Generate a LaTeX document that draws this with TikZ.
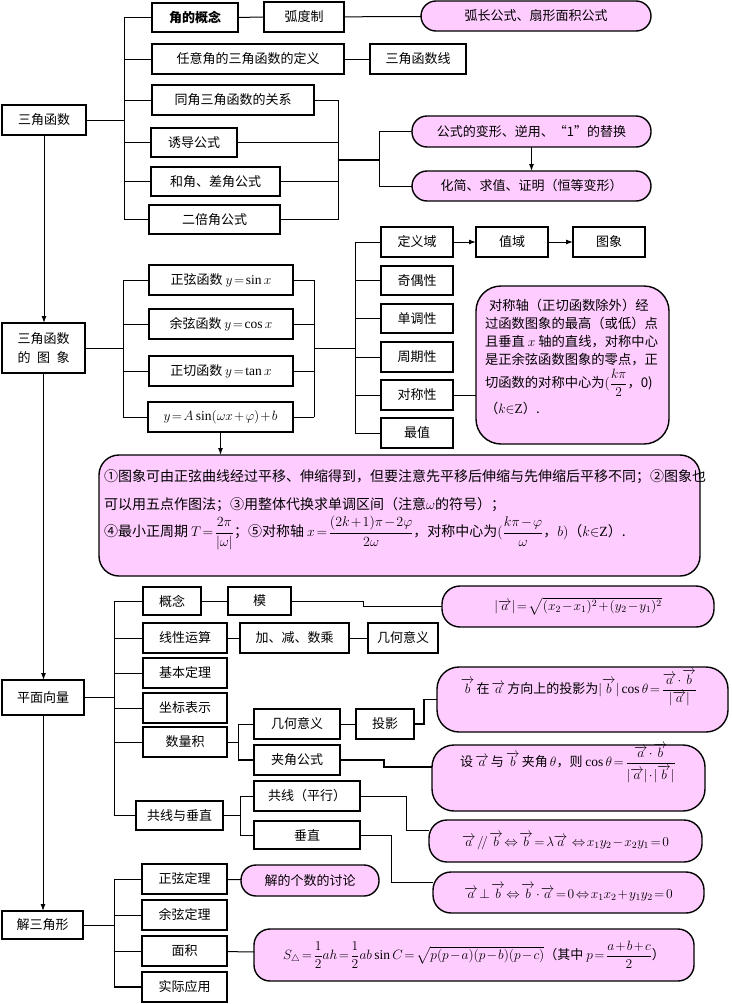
\RequirePackage{fix-cm}
\documentclass[tikz,border=0pt]{standalone}
\usepackage{amsmath}
\usepackage{fontspec}
\setmainfont{Liberation Serif}
\newfontfamily\cjk{Noto Sans CJK SC}
\DeclareMathSizes{13}{13.5}{9.5}{7.5}
\DeclareMathSizes{13.3}{13.5}{9.5}{7.5}
\DeclareMathSizes{14}{14}{10}{8}
\usetikzlibrary{arrows.meta,calc}
\definecolor{pinkc}{RGB}{255,204,255}
\newcommand\bx[7][]{\node[box,#1,minimum width={(#5-#3)*1pt},minimum height={(#6-#4)*1pt}] (#2) at ({(#3+#5)/2},{(#4+#6)/2}) {#7};}
\newcommand\va{\overrightarrow{a}}
\newcommand\vb{\overrightarrow{b}}
\begin{document}
\medmuskip=1.5mu
\thickmuskip=2mu
\begin{tikzpicture}[x=1pt,y=-1pt,line width=1pt,
  box/.style={draw,fill=white,line width=1.1pt,inner sep=1pt,outer sep=0pt,align=center,font=\cjk\fontsize{13}{16}\selectfont},
  pk/.style={box,fill=pinkc,line width=1.4pt,rounded corners=#1},
  pk/.default=12pt,
  txt/.style={inner sep=0pt,outer sep=0pt,anchor=west,font=\cjk\fontsize{14}{16}\selectfont},
  tk/.style={line width=2pt},
  arr/.style={line width=1pt,-{Latex[length=7pt,width=5pt]}}]
\fill[white] (0,0) rectangle (731,1004);
\useasboundingbox (0,0) rectangle (731,1004);
% ---------- section 1
\bx{tri}{2}{105}{86}{135}{三角函数}
\bx{jgn}{152}{3}{238}{32}{\bfseries 角的概念}
\bx{hdz}{264}{2}{344}{32}{弧度制}
\bx[pk=15pt]{hc}{421}{1}{651}{31}{弧长公式、扇形面积公式}
\bx{ryj}{152}{44}{344}{74}{任意角的三角函数的定义}
\bx{sjx}{370}{44}{466}{74}{三角函数线}
\bx{tj}{152}{85}{314}{115}{同角三角函数的关系}
\bx{yd}{151}{128}{237}{157}{诱导公式}
\bx{hj}{151}{167}{280}{196}{和角、差角公式}
\bx{eb}{149}{205}{280}{234}{二倍角公式}
\bx[pk=15pt]{bxa}{412}{116}{651}{147}{公式的变形、逆用、“1”的替换}
\bx[pk=15pt]{bxb}{412}{171}{651}{201}{化简、求值、证明（恒等变形）}
\coordinate (b1) at (124,0);
\coordinate (b2) at (338,0);
\coordinate (j1) at (338,160);
\coordinate (j2) at (379,160);
\draw (tri.east) -- (tri.east -| b1);
\draw (b1 |- jgn.west) -- (b1 |- eb.west);
\foreach \n in {jgn,ryj,tj,yd,hj,eb} \draw (b1 |- \n.west) -- (\n.west);
\draw (jgn) -- (hdz);
\draw (hdz) -- (hc);
\draw (ryj) -- (sjx);
\foreach \n in {tj,yd,hj,eb} \draw (\n.east) -- (\n.east -| b2);
\draw (b2 |- tj.east) -- (b2 |- eb.east);
\draw[tk] (j1) -- (j2);
\draw (j2 |- bxa.west) -- (j2 |- bxb.west);
\draw (j2 |- bxa.west) -- (bxa.west);
\draw (j2 |- bxb.west) -- (bxb.west);
\draw[arr] (bxa) -- (bxb);
% ---------- section 2
\bx[font=\cjk\fontsize{13}{19}\selectfont]{tfx}{2}{323}{85}{373}{三角函数\\\makebox[4em]{的\hfill 图\hfill 象}}
\bx{fsin}{149}{265}{293}{295}{正弦函数 $y=\sin x$}
\bx{fcos}{149}{309}{293}{339}{余弦函数 $y=\cos x$}
\bx{ftan}{149}{356}{293}{386}{正切函数 $y=\tan x$}
\bx{fasin}{148}{402}{293}{432}{$y=A\sin(\omega x+\varphi)+b$}
\bx{dyy}{381}{227}{453}{257}{定义域}
\bx{zy}{476}{227}{548}{257}{值域}
\bx{tx}{573}{227}{645}{257}{图象}
\bx{jox}{381}{266}{453}{295}{奇偶性}
\bx{ddx}{381}{304}{453}{333}{单调性}
\bx{zqx}{381}{342}{453}{372}{周期性}
\bx{dcx}{381}{380}{453}{410}{对称性}
\bx{zz}{381}{418}{453}{448}{最值}
\bx[pk=25pt]{nta}{476}{286}{669}{444}{}
\coordinate (b3) at (123,0);
\coordinate (b4) at (314,0);
\coordinate (b5) at (355,0);
\draw (tfx.east) -- (tfx.east -| b3);
\draw (b3 |- fsin.west) -- (b3 |- fasin.west);
\foreach \n in {fsin,fcos,ftan,fasin} {\draw (b3 |- \n.west) -- (\n.west); \draw (\n.east) -- (\n.east -| b4);}
\draw (b4 |- fsin.east) -- (b4 |- fasin.east);
\draw (b4 |- tfx.east) -- (b5 |- tfx.east);
\draw (b5 |- dyy.west) -- (b5 |- zz.west);
\foreach \n in {dyy,jox,ddx,zqx,dcx,zz} \draw (b5 |- \n.west) -- (\n.west);
\draw[arr] (dyy) -- (zy);
\draw[arr] (zy.east) -- (zy.east -| tx.west);
\draw (dcx.east) -- (dcx.east -| nta.west);
\begin{scope}[every node/.style={txt,font=\cjk\fontsize{13.3}{16}\selectfont}]
\node (na1) at (489,305) {对称轴（正切函数除外）经};
\node (na2) at (485,323) {过函数图象的最高（或低）点};
\node (na3) at (485,342) {且垂直 $x$ 轴的直线，对称中心};
\node (na4) at (485,360) {是正余弦函数图象的零点，正};
\node (na5) at (485,383) {切函数的对称中心为$(\dfrac{k\pi}{2}$，0)};
\node (na6) at (485,408) {（$k{\in}\mathrm{Z}$）.};
\end{scope}
\bx[pk=20pt]{ntb}{99}{455}{700}{576}{}
\draw[arr] (fasin.south) -- (fasin.south |- ntb.north);
\node[txt] (nb1) at (104,477) {①图象可由正弦曲线经过平移、伸缩得到，但要注意先平移后伸缩与先伸缩后平移不同；②图象也};
\node[txt] (nb2) at (104,505) {可以用五点作图法；③用整体代换求单调区间（注意$\omega$的符号）；};
\node[txt] (nb3) at (104,533) {④最小正周期 $T=\dfrac{2\pi}{|\omega|}$；⑤对称轴 $x=\dfrac{(2k+1)\pi-2\varphi}{2\omega}$，对称中心为$(\dfrac{k\pi-\varphi}{\omega}$，$b)$（$k{\in}\mathrm{Z}$）.};
% ---------- section 3
\bx{pmxl}{2}{680}{84}{715}{平面向量}
\bx{gn}{143}{587}{201}{615}{概念}
\bx{mo}{228}{587}{291}{615}{模}
\bx[pk=18pt]{mod}{442}{586}{714}{627}{$|\va|=\sqrt{(x_2-x_1)^2+(y_2-y_1)^2}$}
\bx{xxys}{143}{623}{227}{653}{线性运算}
\bx{jjs}{240}{623}{349}{653}{加、减、数乘}
\bx{jhyy}{368}{623}{438}{653}{几何意义}
\bx{jbdl}{143}{658}{227}{688}{基本定理}
\bx{zbbs}{143}{693}{227}{723}{坐标表示}
\bx{slj}{143}{727}{227}{757}{数量积}
\bx{gxcz}{136}{801}{223}{830}{共线与垂直}
\bx{jhyyb}{254}{709}{340}{739}{几何意义}
\bx{ty}{356}{709}{414}{739}{投影}
\bx{jjgs}{254}{745}{340}{775}{夹角公式}
\bx{gx}{254}{781}{360}{811}{共线（平行）}
\bx{cz}{254}{821}{360}{849}{垂直}
\bx[pk=22pt]{typ}{437}{667}{728}{732}{}
\node[txt,anchor=center,font=\cjk\fontsize{13}{16}\selectfont] (typt) at (579,688) {$\vb$\,在\,$\va$\,方向上的投影为$|\vb|\cos\theta=\dfrac{\va\cdot\vb}{|\va|}$};
\bx[pk=22pt]{jjp}{432}{745}{705}{811}{}
\node[txt,anchor=center,font=\cjk\fontsize{13}{16}\selectfont] (jjpt) at (568,763) {设\,$\va$\,与\,$\vb$\,夹角\,$\theta$，则 $\cos\theta=\dfrac{\va\cdot\vb}{|\va|\cdot|\vb|}$};
\bx[pk=18pt]{pxp}{429}{820}{702}{862}{$\va\mathrel{/\!/}\vb\Leftrightarrow\vb=\lambda\va\ \Leftrightarrow x_1y_2-x_2y_1=0$}
\bx[pk=18pt]{czp}{433}{872}{704}{913}{$\va\perp\vb\Leftrightarrow\vb\cdot\va=0\Leftrightarrow x_1x_2+y_1y_2=0$}
\coordinate (b6) at (114,0);
\coordinate (b7) at (238,0);
\coordinate (b8) at (240,0);
\coordinate (k1) at (363,0);
\coordinate (k2) at (424,0);
\coordinate (c3) at (384,767);
\coordinate (c4) at (406,830);
\coordinate (c5) at (391,882);
\draw (pmxl.east) -- (pmxl.east -| b6);
\draw (b6 |- gn.west) -- (b6 |- gxcz.west);
\foreach \n in {gn,xxys,jbdl,zbbs,slj,gxcz} \draw (b6 |- \n.west) -- (\n.west);
\draw (gn) -- (mo);
\draw (mo.east) -| (k1 |- mod.west) -- (mod.west);
\draw (xxys) -- (jjs);
\draw (jjs) -- (jhyy);
\draw (slj.east) -- (slj.east -| b7);
\draw (b7 |- jhyyb.west) -- (b7 |- jjgs.west);
\draw (b7 |- jhyyb.west) -- (jhyyb.west);
\draw[tk] (b7 |- jjgs.west) -- (jjgs.west);
\draw (jhyyb) -- (ty);
\draw[line width=1.5pt] (ty.east) -| (k2 |- typ.west) -- (typ.west);
\draw[tk] (jjgs.east) -| (c3) -- (c3 -| jjp.west);
\draw (gxcz.east) -- (gxcz.east -| b8);
\draw (b8 |- gx.west) -- (b8 |- cz.west);
\draw (b8 |- gx.west) -- (gx.west);
\draw (b8 |- cz.west) -- (cz.west);
\draw (gx.east) -| (c4) -- (c4 -| pxp.west);
\draw (cz.east) -| (c5) -- (c5 -| czp.west);
% ---------- section 4
\bx{jsjx}{2}{911}{83}{939}{解三角形}
\bx{zxdl}{142}{864}{227}{894}{正弦定理}
\bx[pk=15pt]{jdgs}{241}{865}{379}{896}{解的个数的讨论}
\bx{yxdl}{142}{900}{227}{930}{余弦定理}
\bx{mj}{142}{936}{227}{966}{面积}
\bx{sjyy}{142}{972}{227}{1002}{实际应用}
\bx[pk=16pt]{sp}{254}{929}{694}{981}{$S_\triangle=\dfrac12ah=\dfrac12ab\sin C=\sqrt{p(p-a)(p-b)(p-c)}$（其中 $p=\dfrac{a+b+c}{2}$）}
\draw (jsjx.east) -- (jsjx.east -| b6);
\draw (b6 |- zxdl.west) -- (b6 |- sjyy.west);
\foreach \n in {zxdl,yxdl,mj} \draw (b6 |- \n.west) -- (\n.west);
\draw[tk] (b6 |- sjyy.west) -- (sjyy.west);
\draw (zxdl) -- (jdgs);
\draw (mj) -- (sp);
% ---------- main spine
\draw[arr] (tri.south) -- (tri.south |- tfx.north);
\draw[arr] (tfx.south) -- (tfx.south |- pmxl.north);
\draw[arr] (pmxl.south) -- (pmxl.south |- jsjx.north);
\end{tikzpicture}
\end{document}
